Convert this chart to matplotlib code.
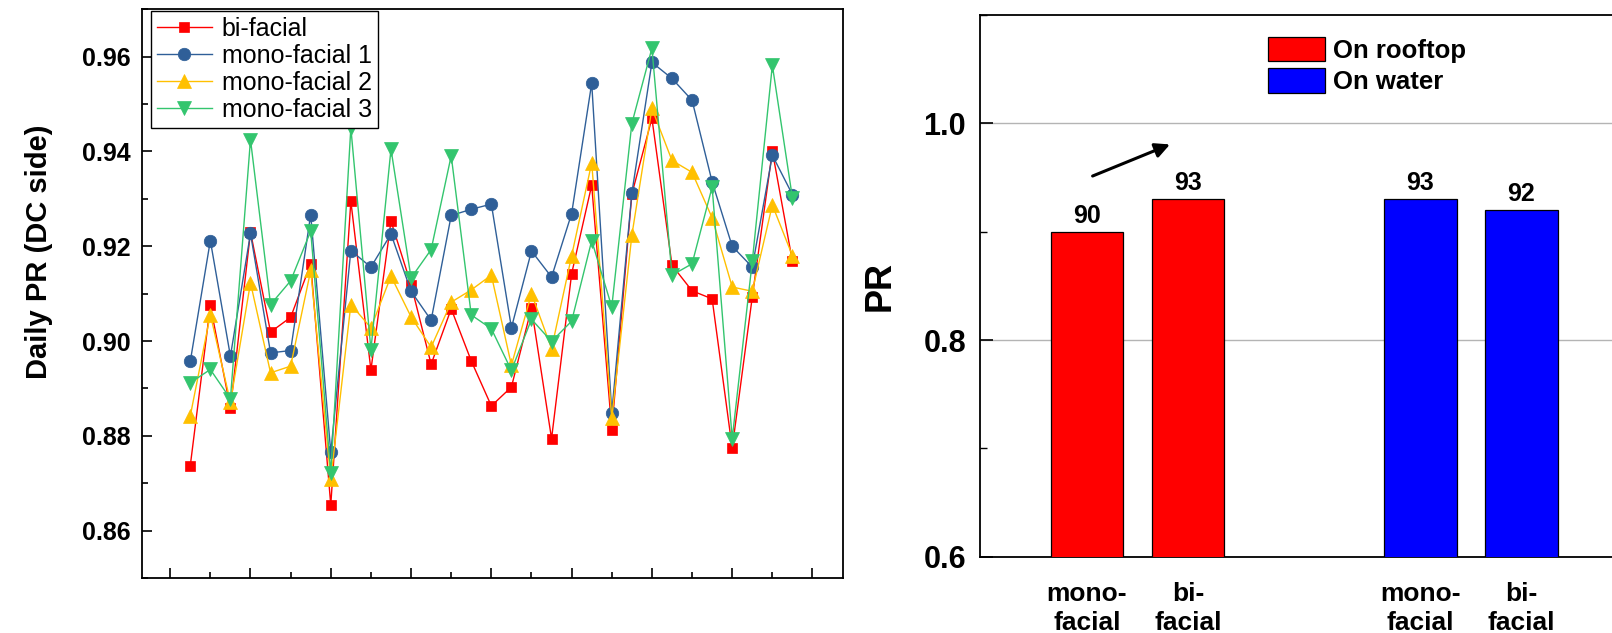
import numpy as np
import matplotlib
matplotlib.use('Agg')
import matplotlib.pyplot as plt
from matplotlib.ticker import MultipleLocator

plt.rcParams['font.family'] = ['Liberation Sans', 'DejaVu Sans']

# daily PR, one value per day
days = list(range(1, 32))
bi_facial = [0.8737, 0.9075, 0.8858, 0.9230, 0.9019, 0.9050, 0.9163, 0.8654, 0.9295, 0.8939,
             0.9253, 0.9119, 0.8951, 0.9068, 0.8958, 0.8863, 0.8903, 0.9070, 0.8794, 0.9142,
             0.9329, 0.8813, 0.9310, 0.9470, 0.9160, 0.9106, 0.9089, 0.8774, 0.9093, 0.9401, 0.9168]
mono_1 = [0.8957, 0.9212, 0.8968, 0.9227, 0.8975, 0.8980, 0.9267, 0.8765, 0.9191, 0.9156,
          0.9226, 0.9105, 0.9044, 0.9265, 0.9278, 0.9289, 0.9028, 0.9190, 0.9135, 0.9269,
          0.9544, 0.8849, 0.9312, 0.9588, 0.9554, 0.9508, 0.9336, 0.9200, 0.9156, 0.9392, 0.9309]
mono_2 = [0.8842, 0.9056, 0.8871, 0.9123, 0.8933, 0.8947, 0.9149, 0.8708, 0.9077, 0.9028,
          0.9137, 0.9051, 0.8987, 0.9082, 0.9108, 0.9139, 0.8949, 0.9100, 0.8984, 0.9180,
          0.9376, 0.8837, 0.9223, 0.9491, 0.9381, 0.9356, 0.9260, 0.9114, 0.9105, 0.9287, 0.9180]
mono_3 = [0.8912, 0.8940, 0.8878, 0.9425, 0.9077, 0.9127, 0.9232, 0.8722, 0.9450, 0.8982,
          0.9405, 0.9133, 0.9193, 0.9391, 0.9055, 0.9026, 0.8938, 0.9046, 0.8999, 0.9042,
          0.9212, 0.9072, 0.9459, 0.9618, 0.9139, 0.9163, 0.9325, 0.8794, 0.9168, 0.9582, 0.9302]
series_names = ['bi-facial', 'mono-facial 1', 'mono-facial 2', 'mono-facial 3']

# right panel
bar_pos = [1, 2, 4.3, 5.3]
bar_pr = [0.90, 0.93, 0.93, 0.92]
bar_text = ['90', '93', '93', '92']
bar_cats = ['mono-\nfacial', 'bi-\nfacial', 'mono-\nfacial', 'bi-\nfacial']
place_names = ['On rooftop', 'On water']

W, H = 1612, 633
fig = plt.figure(figsize=(W / 100, H / 100), dpi=100)

def px_axes(left, top, right, bottom):
    return fig.add_axes([left / W, (H - bottom) / H, (right - left) / W, (bottom - top) / H])

# ---- left: daily PR lines ----
ax1 = px_axes(141.7, 9.3, 843, 578)
styles = [('#ff0000', 's', 7.5), ('#2f5f98', 'o', 9), ('#ffc000', '^', 10), ('#33c56e', 'v', 10)]
for vals, name, (c, m, ms) in zip([bi_facial, mono_1, mono_2, mono_3], series_names, styles):
    ax1.plot(days, vals, color=c, lw=1.0, marker=m, ms=ms, mec=c, mew=0.5, label=name)

ax1.set_xlim(-1.42, 33.52)
ax1.set_ylim(0.85, 0.97)
ax1.xaxis.set_major_locator(MultipleLocator(4))
ax1.xaxis.set_minor_locator(MultipleLocator(2))
ax1.yaxis.set_minor_locator(MultipleLocator(0.01))
ax1.set_yticks([0.86, 0.88, 0.90, 0.92, 0.94, 0.96])
ax1.set_yticklabels(['0.86', '0.88', '0.90', '0.92', '0.94', '0.96'], fontweight='bold', fontsize=18)
ax1.set_xticklabels([])
ax1.tick_params(which='major', direction='in', length=7, width=1.2)
ax1.tick_params(which='minor', direction='in', length=4, width=1.2)
ax1.tick_params(axis='y', pad=8)
for sp in ax1.spines.values():
    sp.set_linewidth(1.3)
ax1.set_ylabel('Daily PR (DC side)', fontweight='bold', fontsize=21)
ax1.yaxis.set_label_coords(-0.127, 0.573)

leg1 = ax1.legend(loc='upper left', bbox_to_anchor=(0.0128, 0.9975), fontsize=18,
                  frameon=True, fancybox=False, borderaxespad=0, borderpad=0.25,
                  labelspacing=0.12, handlelength=2.2, handletextpad=0.4)
leg1.get_frame().set_edgecolor('black')
leg1.get_frame().set_linewidth(1.0)
leg1.get_frame().set_alpha(1)

# ---- right: PR bars ----
ax2 = px_axes(980, 15, 1625, 556.7)
colors = ['#ff0000', '#ff0000', '#0000ff', '#0000ff']
bars = ax2.bar(bar_pos, bar_pr, width=0.72, color=colors, edgecolor='black', linewidth=0.9, zorder=3)
for b, t in zip(bars, bar_text):
    ax2.annotate(t, (b.get_x() + b.get_width() / 2, b.get_height()), xytext=(0, 3),
                 textcoords='offset points', ha='center', va='bottom',
                 fontsize=18, fontweight='bold')

ax2.set_xlim(-0.0594, 6.327)
ax2.set_ylim(0.6, 1.1)
ax2.set_yticks([0.6, 0.8, 1.0])
ax2.set_yticklabels(['0.6', '0.8', '1.0'], fontweight='bold', fontsize=22)
ax2.yaxis.set_minor_locator(MultipleLocator(0.1))
ax2.set_xticks(bar_pos)
ax2.set_xticklabels(bar_cats, fontweight='bold', fontsize=19, linespacing=1.3)
ax2.tick_params(axis='x', length=0, pad=18)
ax2.tick_params(axis='y', which='major', direction='in', length=9, width=1.2, pad=10)
ax2.tick_params(axis='y', which='minor', direction='in', length=5, width=1.0)
ax2.grid(axis='y', which='major', color='#b4b4b4', lw=1.0, zorder=0)
for sp in ax2.spines.values():
    sp.set_linewidth(1.3)
ax2.set_ylabel('PR', fontweight='bold', fontsize=26)
ax2.yaxis.set_label_coords(-0.128, 0.5)

ax2.annotate('', xy=(1.847, 0.9815), xytext=(1.03, 0.9504),
             arrowprops=dict(arrowstyle='-|>', lw=2.2, color='black', mutation_scale=22))

handles = [plt.Rectangle((0, 0), 1, 1, fc=c, ec='black', lw=0.9) for c in ['#ff0000', '#0000ff']]
leg2 = ax2.legend(handles, place_names, loc='upper left', bbox_to_anchor=(0.447, 0.96),
                  frameon=False, borderaxespad=0, borderpad=0,
                  prop={'weight': 'bold', 'size': 18.5},
                  handlelength=2.2, handleheight=1.1, handletextpad=0.3, labelspacing=0.2)

fig.savefig('out.png', dpi=100)
